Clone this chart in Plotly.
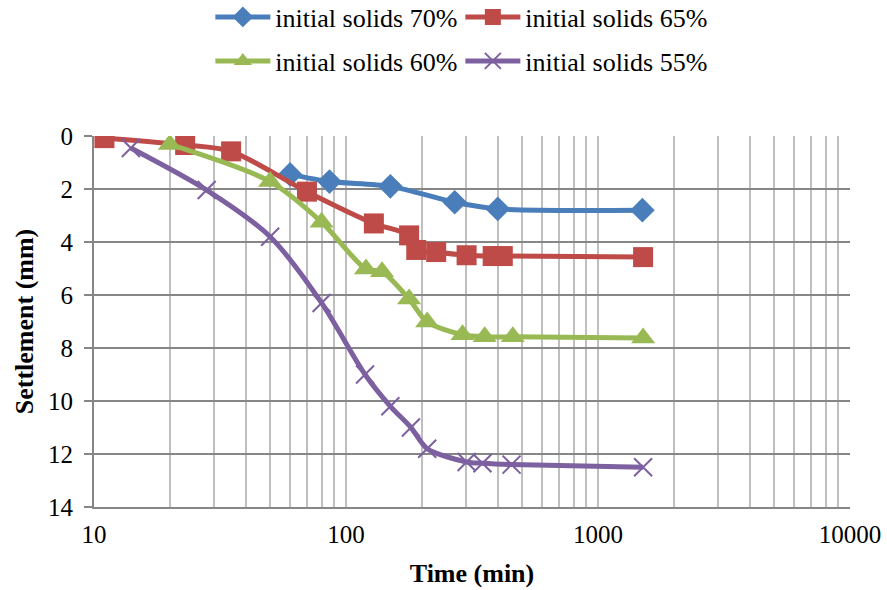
import plotly.graph_objects as go

# ---- data ----
time_70 = [60, 86, 150, 270, 400, 1500]
settle_70 = [1.45, 1.72, 1.9, 2.5, 2.75, 2.8]

time_65 = [11, 23, 35, 70, 129, 178, 190, 228, 301, 382, 419, 1510]
settle_65 = [0.08, 0.34, 0.58, 2.1, 3.3, 3.75, 4.3, 4.38, 4.5, 4.53, 4.53, 4.57]

time_60 = [20, 50, 80, 120, 139, 178, 210, 290, 355, 459, 1510]
settle_60 = [0.32, 1.72, 3.25, 5.02, 5.12, 6.15, 7.02, 7.5, 7.58, 7.58, 7.62]

time_55 = [14, 28, 50, 80, 119, 150, 181, 210, 301, 348, 454, 1510]
settle_55 = [0.45, 2.04, 3.8, 6.3, 9.0, 10.2, 11.0, 11.8, 12.3, 12.35, 12.4, 12.5]

names = ["initial solids 70%", "initial solids 65%", "initial solids 60%", "initial solids 55%"]
colors = ["#4A7EBB", "#BE4B48", "#98B954", "#7D60A0"]

x_tick_labels = ["10", "100", "1000", "10000"]
y_tick_vals = [0, 2, 4, 6, 8, 10, 12, 14]

FONT = "Liberation Serif"

fig = go.Figure()

series = [
    (time_70, settle_70, "diamond", 19, None, "legend"),
    (time_65, settle_65, "square", 20, None, "legend"),
    (time_60, settle_60, "triangle-up", 21, None, "legend2"),
    (time_55, settle_55, "x-thin-open", 18, 2, "legend2"),
]
for i, (xs, ys, sym, sz, lw, lg) in enumerate(series):
    marker = dict(symbol=sym, size=sz, color=colors[i])
    if lw is not None:
        marker["line"] = dict(color=colors[i], width=lw)
    else:
        marker["line"] = dict(width=0)
    fig.add_trace(go.Scatter(
        x=xs, y=ys, name=names[i], mode="lines+markers",
        line=dict(color=colors[i], width=5, shape="spline", smoothing=0.8),
        marker=marker, legend=lg,
    ))

tickvals = []
ticktext = []
for d in range(1, 4):
    for k in range(1, 10):
        tickvals.append(k * 10 ** d)
        ticktext.append(x_tick_labels[d - 1] if k == 1 else "")
tickvals.append(10 ** 4)
ticktext.append(x_tick_labels[3])

legend_common = dict(orientation="h", xref="container", yref="container",
                     x=0.519, xanchor="center", yanchor="middle",
                     font=dict(family=FONT, size=26, color="black"),
                     itemwidth=55, entrywidth=180, bgcolor="rgba(0,0,0,0)")

fig.update_layout(
    width=887, height=590,
    margin=dict(l=94, r=37, t=136, b=83, autoexpand=False),
    paper_bgcolor="white", plot_bgcolor="white",
    font=dict(family=FONT, size=25, color="black"),
    showlegend=True,
    legend=dict(legend_common, y=1 - 17 / 590),
    legend2=dict(legend_common, y=1 - 61 / 590),
)

fig.update_xaxes(
    type="log", range=[1, 4], automargin=False,
    tickmode="array", tickvals=tickvals, ticktext=ticktext,
    showgrid=True, gridcolor="#BFBFBF", gridwidth=1.5,
    showline=True, linecolor="#868686", linewidth=2,
    ticks="", ticklabelstandoff=4,
    tickfont=dict(family=FONT, size=25, color="black"),
    title=dict(text="<b>Time (min)</b>", font=dict(family=FONT, size=26, color="black"), standoff=17),
    zeroline=False,
)
fig.update_yaxes(
    range=[14, 0], tickmode="array", tickvals=y_tick_vals, automargin=False,
    showgrid=True, gridcolor="#868686", gridwidth=1.5,
    showline=True, linecolor="#868686", linewidth=2,
    ticks="outside", ticklen=8, tickcolor="#868686", tickwidth=2,
    ticklabelstandoff=6,
    tickfont=dict(family=FONT, size=25, color="black"),
    title=dict(text="<b>Settlement (mm)</b>", font=dict(family=FONT, size=26, color="black"), standoff=7),
    zeroline=False,
)

fig.write_html("out.html", config={"displayModeBar": False},
               post_script="document.body.style.margin='0';")
